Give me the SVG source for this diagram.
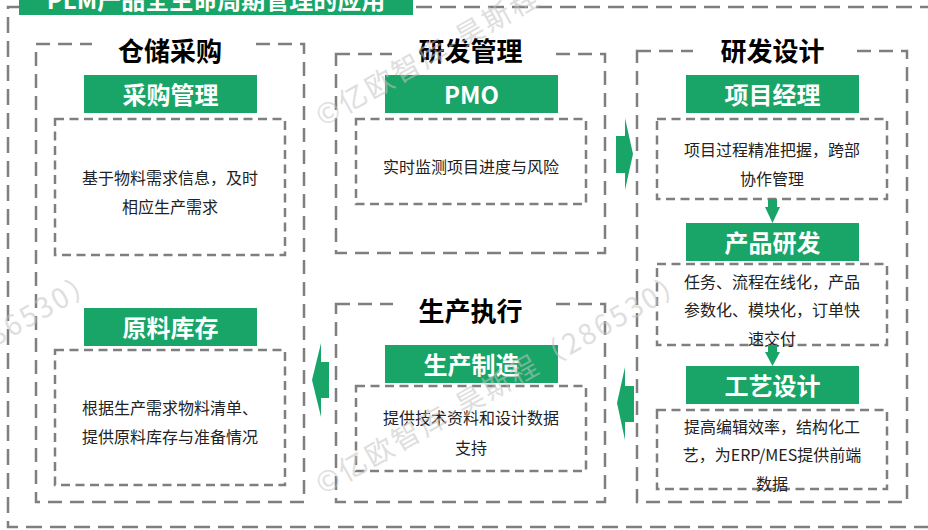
<svg xmlns="http://www.w3.org/2000/svg" width="928" height="530" viewBox="0 0 928 530">
<style>
text{font-family:"Noto Sans CJK SC","Microsoft YaHei",sans-serif}
.outer{fill:none;stroke:#7f7f7f;stroke-width:2.5;stroke-dasharray:16 8}
.sec{fill:none;stroke:#7f7f7f;stroke-width:2.5;stroke-dasharray:14 8}
.inner{fill:none;stroke:#7f7f7f;stroke-width:2.5;stroke-dasharray:9 5.5}
.bar{fill:#18a567}
.bartxt{fill:#fff;font-size:24px;font-weight:bold;text-anchor:middle;dominant-baseline:central}
.sectxt{fill:#000;font-size:26px;font-weight:bold;text-anchor:middle;dominant-baseline:central}
.desc{fill:#222;font-size:16px;text-anchor:middle;dominant-baseline:central}
.gap{fill:#fff}
.arrow{fill:#18a567}
.wm{fill:#c4c4c4;opacity:0.55;font-size:28px}
</style>
<rect width="928" height="530" fill="#fff"/>
<rect class="outer" x="8" y="7" width="945" height="520"/>
<g id="title">
<rect class="bar" x="19" y="-25" width="394" height="40"/>
<text x="216" y="-2" fill="#fff" font-size="24" font-weight="bold" text-anchor="middle" dominant-baseline="central">PLM产品全生命周期管理的应用</text>
</g>
<g id="warehouse">
<rect class="sec" x="36" y="44" width="268" height="458"/>
<rect class="gap" x="92" y="32" width="156" height="30"/>
<text class="sectxt" x="170" y="49.5">仓储采购</text>
<g id="purchase">
<rect class="bar" x="84" y="75" width="173" height="38"/>
<text class="bartxt" x="170.5" y="93">采购管理</text>
<rect class="inner" x="55" y="119" width="230" height="136"/>
<text class="desc" x="170" y="177">基于物料需求信息，及时</text>
<text class="desc" x="170" y="206">相应生产需求</text>
</g>
<g id="material">
<rect class="bar" x="84" y="308" width="173" height="38"/>
<text class="bartxt" x="170.5" y="326">原料库存</text>
<rect class="inner" x="55" y="350" width="230" height="135"/>
<text class="desc" x="170" y="407">根据生产需求物料清单、</text>
<text class="desc" x="170" y="436">提供原料库存与准备情况</text>
</g>
</g>
<g id="rd-management">
<rect class="sec" x="336" y="54" width="269" height="199"/>
<rect class="gap" x="392" y="32" width="159" height="30"/>
<text class="sectxt" x="470.5" y="49.5">研发管理</text>
<g id="pmo">
<rect class="bar" x="385" y="75" width="173" height="38"/>
<text class="bartxt" x="471.5" y="93">PMO</text>
<rect class="inner" x="356" y="119" width="230" height="85"/>
<text class="desc" x="471" y="166">实时监测项目进度与风险</text>
</g>
</g>
<g id="rd-design">
<rect class="sec" x="637" y="51" width="270" height="451"/>
<rect class="gap" x="693" y="32" width="156" height="30"/>
<text class="sectxt" x="772.5" y="49.5">研发设计</text>
<g id="pm">
<rect class="bar" x="686" y="75" width="173" height="38"/>
<text class="bartxt" x="772.5" y="93">项目经理</text>
<rect class="inner" x="657" y="119" width="230" height="80"/>
<text class="desc" x="772" y="149">项目过程精准把握，跨部</text>
<text class="desc" x="772" y="178">协作管理</text>
</g>
<g id="product">
<rect class="bar" x="686" y="223" width="173" height="38"/>
<text class="bartxt" x="772.5" y="241">产品研发</text>
<rect class="inner" x="657" y="264" width="230" height="81"/>
<text class="desc" x="772" y="281">任务、流程在线化，产品</text>
<text class="desc" x="772" y="309">参数化、模块化，订单快</text>
<text class="desc" x="772" y="338">速交付</text>
</g>
<g id="process">
<rect class="bar" x="686" y="366" width="173" height="38"/>
<text class="bartxt" x="772.5" y="384">工艺设计</text>
<rect class="inner" x="657" y="410" width="230" height="79"/>
<text class="desc" x="772" y="426">提高编辑效率，结构化工</text>
<text class="desc" x="772" y="454">艺，为ERP/MES提供前端</text>
<text class="desc" x="772" y="483">数据</text>
</g>
</g>
<g id="production">
<rect class="sec" x="336" y="304" width="269" height="198"/>
<rect class="gap" x="393" y="292" width="158" height="30"/>
<text class="sectxt" x="470.5" y="309.5">生产执行</text>
<g id="manufacture">
<rect class="bar" x="385" y="345" width="173" height="38"/>
<text class="bartxt" x="471.5" y="363">生产制造</text>
<rect class="inner" x="356" y="386" width="230" height="85"/>
<text class="desc" x="471" y="417">提供技术资料和设计数据</text>
<text class="desc" x="471" y="447">支持</text>
</g>
</g>
<g id="connectors">
<path class="arrow" d="M616,136 H625 V118 L633,154 L625,190 V173 H616 Z"/>
<path class="arrow" d="M634,386 H625 V367 L617,403 L625,440 V422 H634 Z"/>
<path class="arrow" d="M329,362 H321 V343 L312,380 L321,417 V398 H329 Z"/>
<path class="arrow" d="M768,199 H777 V207 H780 L772.5,223 L765,207 H768 Z"/>
<path class="arrow" d="M768,345 H777 V352 H780 L772.5,366 L765,352 H768 Z"/>
</g>
<g id="watermark">
<text class="wm" transform="translate(323,495) rotate(-29.5)" textLength="420" lengthAdjust="spacing">©亿欧智库-昊斯程（286530）</text>
<text class="wm" transform="translate(323,127) rotate(-29.5)" textLength="420" lengthAdjust="spacing">©亿欧智库-昊斯程（286530）</text>
<text class="wm" transform="translate(-267,495) rotate(-29.5)" textLength="420" lengthAdjust="spacing">©亿欧智库-昊斯程（286530）</text>
</g>
</svg>
